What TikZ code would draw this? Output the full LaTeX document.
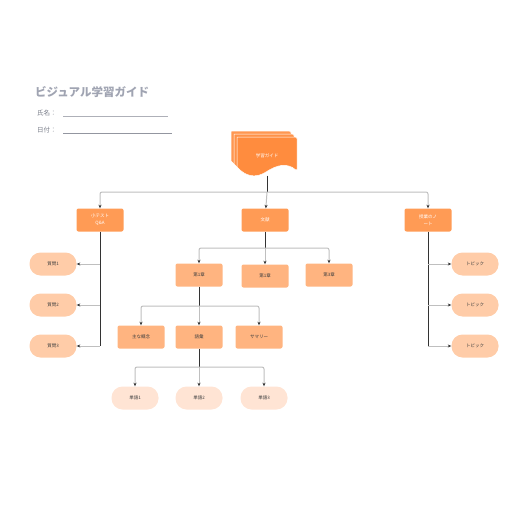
\documentclass[tikz,border=0pt]{standalone}
\usepackage{fontspec}
\setmainfont{Noto Sans CJK JP}
\usetikzlibrary{arrows.meta,positioning}

\begin{document}
\begin{tikzpicture}[x=1pt,y=-1pt]
    % Define guide color palette
    \definecolor{guideorange}{RGB}{255,140,62}
    \definecolor{toporange}{RGB}{255,155,85}
    \definecolor{chapterorange}{RGB}{255,180,128}
    \definecolor{pillorange}{RGB}{255,204,168}
    \definecolor{wordorange}{RGB}{255,228,212}
    \definecolor{titlegray}{RGB}{160,164,178}
    \definecolor{textgray}{RGB}{120,124,136}

    % Define styles
    \tikzset{
        topbox/.style={
            fill=toporange,
            rounded corners=2pt,
            minimum width=47pt,
            minimum height=23pt,
            align=center,
            text=white,
            font=\fontsize{4.5}{7}\selectfont,
            inner sep=1pt
        },
        chapter/.style={
            topbox,
            fill=chapterorange,
            text=black!75
        },
        pill/.style={
            topbox,
            fill=pillorange,
            text=black!75,
            rounded corners=11pt
        },
        word/.style={
            pill,
            fill=wordorange
        },
        trunk/.style={
            draw=black!80,
            line width=0.8pt
        },
        branch/.style={
            draw=black!25,
            line width=1pt,
            rounded corners=2pt,
            -{Stealth[length=3.5pt,width=3pt,color=black!80]}
        },
        field/.style={
            anchor=west,
            text=textgray,
            font=\fontsize{6.5}{8}\selectfont,
            inner sep=0pt
        }
    }

    \useasboundingbox (0,0) rectangle (516,516);

    % Title and form fields
    \node[anchor=west, inner sep=0pt, text=titlegray, font=\fontsize{11.5}{13}\selectfont\bfseries] (title) at (35,92) {ビジュアル学習ガイド};
    \node[field] (name) at (37,113) {氏名：};
    \node[field] (date) at (37,130) {日付：};
    \draw[textgray!60, line width=0.4pt] (63,116) -- (168,116);
    \draw[textgray!80, line width=0.4pt] (63,133) -- (172,133);

    % Stacked document
    \foreach \d/\c in {6/guideorange!90!white, 3/guideorange!95!white, 0/guideorange} {
        \fill[\c, draw=white, line width=0.5pt, rounded corners=1.5pt]
            (237-\d,137-\d) -- (297-\d,137-\d) -- (297-\d,171-\d)
            [sharp corners] .. controls (288-\d,163-\d) and (278-\d,164-\d) .. (266-\d,172-\d)
            .. controls (255-\d,179-\d) and (245-\d,176-\d) .. (237-\d,167-\d) -- cycle;
    }
    \node[text=white, font=\fontsize{4.5}{7}\selectfont, minimum width=60pt, minimum height=39pt, inner sep=0pt] (guide) at (267,156) {学習ガイド};

    % First level
    \node[topbox] (quiz) at (100,220) {小テスト\\Q\&A};
    \node[topbox] (lit) at (265,220) {文献};
    \node[topbox] (notes) at (428,220) {授業のノ\\ート};

    % Questions and topics
    \node[pill] (q1) at (53,264) {質問1};
    \node[pill] (q2) at (53,305) {質問2};
    \node[pill] (q3) at (53,346) {質問3};
    \node[pill] (t1) at (475,264) {トピック};
    \node[pill] (t2) at (475,305) {トピック};
    \node[pill] (t3) at (475,346) {トピック};

    % Chapters
    \node[chapter] (ch1) at (199,275) {第1章};
    \node[chapter] (ch2) at (265,276) {第1章};
    \node[chapter] (ch3) at (329,275) {第3章};

    % Chapter contents
    \node[chapter] (concept) at (141,337) {主な概念};
    \node[chapter] (vocab) at (199,337) {語彙};
    \node[chapter] (summary) at (259,337) {サマリー};

    % Words
    \node[word] (w1) at (135,398) {単語1};
    \node[word] (w2) at (199,398) {単語2};
    \node[word] (w3) at (264,398) {単語3};

    % Split points
    \coordinate (split0) at (guide.center |- 0,192);
    \coordinate (split1) at (lit.center |- 0,248);
    \coordinate (split2) at (ch1.center |- 0,306);
    \coordinate (split3) at (vocab.center |- 0,367);
    \coordinate (leftend) at (quiz.center |- q3.east);
    \coordinate (rightend) at (notes.center |- t3.west);

    % Top level connectors
    \draw[trunk] (guide.south) -- (split0);
    \draw[branch] (split0) -| (quiz);
    \draw[branch] (split0) -- (lit);
    \draw[branch] (split0) -| (notes);

    % Questions
    \draw[trunk] (quiz) -- (leftend);
    \draw[branch] (quiz.center |- q1.east) -- (q1);
    \draw[branch] (quiz.center |- q2.east) -- (q2);
    \draw[branch] (leftend) -- (q3);

    % Topics
    \draw[trunk] (notes) -- (rightend);
    \draw[branch] (notes.center |- t1.west) -- (t1);
    \draw[branch] (notes.center |- t2.west) -- (t2);
    \draw[branch] (rightend) -- (t3);

    % Chapters
    \draw[trunk] (lit) -- (split1);
    \draw[branch] (split1) -| (ch1);
    \draw[branch] (split1) -- (ch2);
    \draw[branch] (split1) -| (ch3);

    % Chapter contents
    \draw[trunk] (ch1) -- (split2);
    \draw[branch] (split2) -| (concept);
    \draw[branch] (split2) -- (vocab);
    \draw[branch] (split2) -| (summary);

    % Words
    \draw[trunk] (vocab) -- (split3);
    \draw[branch] (split3) -| (w1);
    \draw[branch] (split3) -- (w2);
    \draw[branch] (split3) -| (w3);

\end{tikzpicture}
\end{document}
